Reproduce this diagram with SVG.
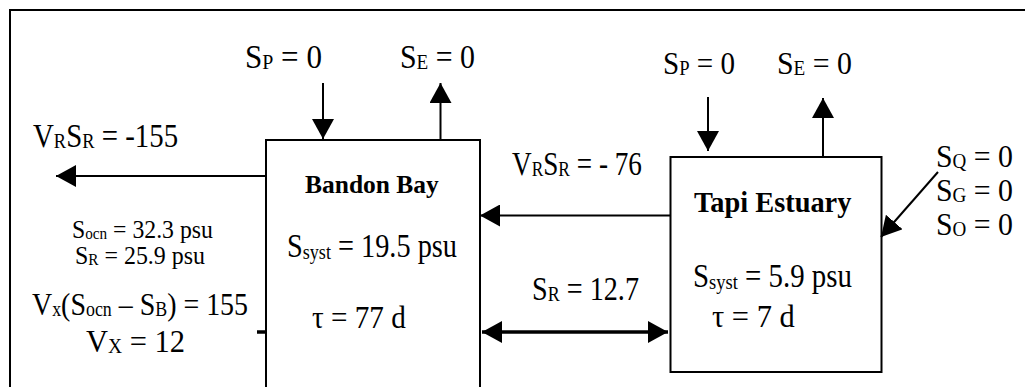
<svg xmlns="http://www.w3.org/2000/svg" width="1025" height="387" viewBox="0 0 1025 387">
<style>
.t{font-family:"Liberation Serif","Times New Roman",serif;fill:#000;}
.b{font-weight:bold;}
.s{font-size:0.64em;}
.box{fill:#fff;stroke:#000;stroke-width:2;}
.ln{stroke:#000;stroke-width:2;fill:none;}
.th{stroke:#000;stroke-width:3.5;fill:none;}
</style>
<defs>
<marker id="ah" markerUnits="userSpaceOnUse" markerWidth="20" markerHeight="22" viewBox="0 0 20 22" refX="20" refY="11" orient="auto-start-reverse"><path d="M0,0 L20,11 L0,22 Z" fill="#000"/></marker>
</defs>
<rect width="1025" height="387" fill="#fff"/>
<g id="frame"><path d="M10,400 L10,10 L1030,10" class="ln"/></g>

<g id="bandon-bay">
<rect x="266" y="140" width="214" height="270" class="box"/>
<text class="t b" transform="translate(305,193) scale(0.98,1)" font-size="26">Bandon Bay</text>
<text class="t" transform="translate(287,257) scale(0.858,1)" font-size="33">S<tspan class="s" dy="2">syst</tspan><tspan dy="-2"> = 19.5 psu</tspan></text>
<text class="t" transform="translate(312,328) scale(0.912,1)" font-size="32">τ = 77 d</text>
</g>

<g id="tapi-estuary">
<rect x="670.5" y="157" width="211" height="215" class="box"/>
<text class="t b" transform="translate(694,212) scale(0.946,1)" font-size="30">Tapi Estuary</text>
<text class="t" transform="translate(693,287) scale(0.875,1)" font-size="33">S<tspan class="s" dy="2">syst</tspan><tspan dy="-2"> = 5.9 psu</tspan></text>
<text class="t" transform="translate(712,327) scale(0.953,1)" font-size="32">τ = 7 d</text>
</g>

<g id="connectors">
<line x1="323" y1="83" x2="323" y2="139" class="ln" marker-end="url(#ah)"/>
<line x1="440.5" y1="140" x2="440.5" y2="83" class="ln" marker-end="url(#ah)"/>
<line x1="266" y1="176" x2="56" y2="176" class="ln" marker-end="url(#ah)"/>
<line x1="708" y1="97" x2="708" y2="151" class="ln" marker-end="url(#ah)"/>
<line x1="823" y1="157" x2="823" y2="98" class="ln" marker-end="url(#ah)"/>
<line x1="670" y1="215.5" x2="480" y2="215.5" class="ln" marker-end="url(#ah)"/>
<line x1="482" y1="332" x2="668" y2="332" class="th" marker-start="url(#ah)" marker-end="url(#ah)"/>
<line x1="257" y1="332" x2="266" y2="332" class="th"/>
<line x1="938" y1="172" x2="881" y2="237" class="ln" marker-end="url(#ah)"/>
</g>

<g id="labels">
<text class="t" transform="translate(245,68) scale(0.942,1)" font-size="33">S<tspan class="s" dy="1">P</tspan><tspan dy="-1"> = 0</tspan></text>
<text class="t" transform="translate(400,68) scale(0.905,1)" font-size="33">S<tspan class="s" dy="1">E</tspan><tspan dy="-1"> = 0</tspan></text>
<text class="t" transform="translate(663,74) scale(0.909,1)" font-size="32">S<tspan class="s" dy="1">P</tspan><tspan dy="-1"> = 0</tspan></text>
<text class="t" transform="translate(777,74) scale(0.933,1)" font-size="32">S<tspan class="s" dy="1">E</tspan><tspan dy="-1"> = 0</tspan></text>
<text class="t" transform="translate(33,147) scale(0.874,1)" font-size="33">V<tspan class="s" dy="1">R</tspan><tspan dy="-1">S</tspan><tspan class="s" dy="1">R</tspan><tspan dy="-1"> = -155</tspan></text>
<text class="t" transform="translate(512,175) scale(0.824,1)" font-size="33">V<tspan class="s" dy="1">R</tspan><tspan dy="-1">S</tspan><tspan class="s" dy="1">R</tspan><tspan dy="-1"> = - 76</tspan></text>
<text class="t" transform="translate(72,238) scale(0.914,1)" font-size="26">S<tspan class="s" dy="1">ocn</tspan><tspan dy="-1"> = 32.3 psu</tspan></text>
<text class="t" transform="translate(75,264) scale(0.92,1)" font-size="26">S<tspan class="s" dy="1">R</tspan><tspan dy="-1"> = 25.9 psu</tspan></text>
<text class="t" transform="translate(32,315) scale(0.873,1)" font-size="32">V<tspan class="s" dy="1">x</tspan><tspan dy="-1">(S</tspan><tspan class="s" dy="1">ocn</tspan><tspan dy="-1"> – S</tspan><tspan class="s" dy="1">B</tspan><tspan dy="-1">) = 155</tspan></text>
<text class="t" transform="translate(86,352) scale(0.953,1)" font-size="32">V<tspan class="s" dy="1">X</tspan><tspan dy="-1"> = 12</tspan></text>
<text class="t" transform="translate(532,300) scale(0.854,1)" font-size="33">S<tspan class="s" dy="1">R</tspan><tspan dy="-1"> = 12.7</tspan></text>
<text class="t" transform="translate(936,167) scale(0.932,1)" font-size="32">S<tspan class="s" dy="1">Q</tspan><tspan dy="-1"> = 0</tspan></text>
<text class="t" transform="translate(936,201) scale(0.932,1)" font-size="32">S<tspan class="s" dy="1">G</tspan><tspan dy="-1"> = 0</tspan></text>
<text class="t" transform="translate(936,235) scale(0.932,1)" font-size="32">S<tspan class="s" dy="1">O</tspan><tspan dy="-1"> = 0</tspan></text>
</g>
</svg>
